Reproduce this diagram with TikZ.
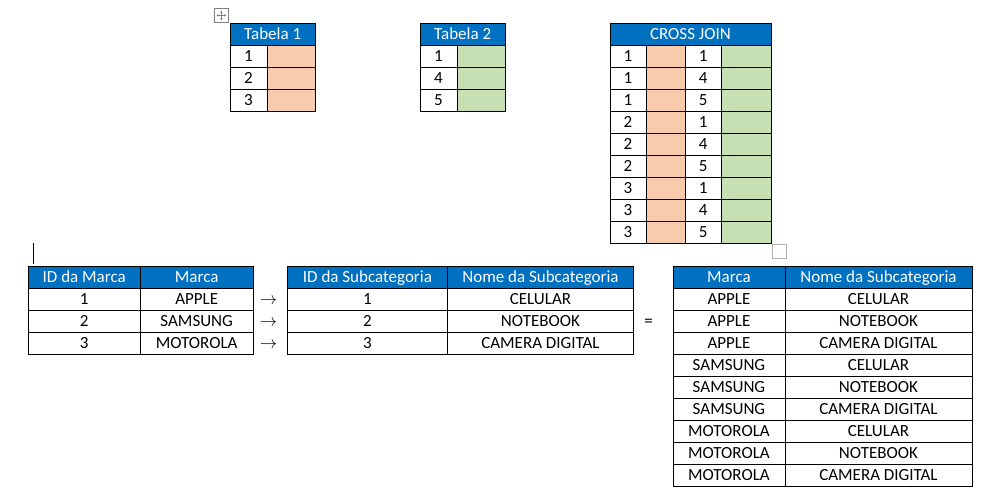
\documentclass[tikz,border=0pt]{standalone}
\usepackage{fontspec}
\setmainfont{Carlito}
\usetikzlibrary{arrows.meta}
\definecolor{hdblue}{HTML}{0070C0}
\definecolor{peach}{HTML}{F8CBAD}
\definecolor{lgreen}{HTML}{C6E0B4}

\begin{document}
\begin{tikzpicture}[x=1pt,y=-1pt,font=\fontsize{17}{20}\selectfont]
    \tikzset{
      cellnode/.style={rectangle,draw=black,line width=0.9pt,anchor=north west,minimum height=22pt,inner sep=0pt,text height=14pt,text depth=2.6pt,text centered},
      headnode/.style={cellnode,fill=hdblue,text=white},
      peachnode/.style={cellnode,fill=peach},
      greennode/.style={cellnode,fill=lgreen},
      signnode/.style={inner sep=0pt,text height=14pt,text depth=2.6pt},
      handlebox/.style={rectangle,draw=gray,line width=0.8pt,anchor=north west,minimum size=14pt,inner sep=0pt},
      handlearrow/.style={gray,line width=0.6pt,{Stealth[length=2.2pt,width=2.6pt]}-{Stealth[length=2.2pt,width=2.6pt]}}
    }
    \useasboundingbox (0,0) rectangle (995,501);

    % table handles
    \node[handlebox](movehandle) at (214,8){};
    \draw[handlearrow]([xshift=2.5pt]movehandle.west) -- ([xshift=-2.5pt]movehandle.east);
    \draw[handlearrow]([yshift=-2.5pt]movehandle.north) -- ([yshift=2.5pt]movehandle.south);
    \node[handlebox,draw=gray!60](resizehandle) at (771.5,244){};
    \draw[line width=0.8pt](33.5,243) -- (33.5,264);

    % Tabela 1
    \node[headnode,minimum width=85.5pt](tab1head) at (229.5,22.5){Tabela 1};
    \foreach \v [count=\i] in {1,2,3} {
      \node[cellnode,minimum width=37pt](tab1num\i) at (229.5,{44.5+22*(\i-1)}){\v};
      \node[peachnode,minimum width=48.5pt](tab1val\i) at (266.5,{44.5+22*(\i-1)}){};
    }

    % Tabela 2
    \node[headnode,minimum width=85.5pt](tab2head) at (419.5,22.5){Tabela 2};
    \foreach \v [count=\i] in {1,4,5} {
      \node[cellnode,minimum width=37pt](tab2num\i) at (419.5,{44.5+22*(\i-1)}){\v};
      \node[greennode,minimum width=48.5pt](tab2val\i) at (456.5,{44.5+22*(\i-1)}){};
    }

    % CROSS JOIN
    \node[headnode,minimum width=161pt](crosshead) at (609.5,22.5){CROSS JOIN};
    \foreach \a/\b [count=\i] in {1/1,1/4,1/5,2/1,2/4,2/5,3/1,3/4,3/5} {
      \node[cellnode,minimum width=36pt](crossa\i) at (609.5,{44.5+22*(\i-1)}){\a};
      \node[peachnode,minimum width=39pt](crossfa\i) at (645.5,{44.5+22*(\i-1)}){};
      \node[cellnode,minimum width=36.5pt](crossb\i) at (684.5,{44.5+22*(\i-1)}){\b};
      \node[greennode,minimum width=49.5pt](crossfb\i) at (721,{44.5+22*(\i-1)}){};
    }

    % marcas
    \node[headnode,minimum width=112.5pt](marcaidhead) at (27.5,265.5){ID da Marca};
    \node[headnode,minimum width=112.5pt](marcahead) at (140,265.5){Marca};
    \foreach \m [count=\i] in {APPLE,SAMSUNG,MOTOROLA} {
      \node[cellnode,minimum width=112.5pt](marcaid\i) at (27.5,{287.5+22*(\i-1)}){\i};
      \node[cellnode,minimum width=112.5pt](marca\i) at (140,{287.5+22*(\i-1)}){\m};
      \node[signnode](seta\i) at (268.5,{298.5+22*(\i-1)}){$\rightarrow$};
    }

    % subcategorias
    \node[headnode,minimum width=160pt](subidhead) at (287,265.5){ID da Subcategoria};
    \node[headnode,minimum width=186pt](subnomehead) at (447,265.5){Nome da Subcategoria};
    \foreach \s [count=\i] in {CELULAR,NOTEBOOK,CAMERA DIGITAL} {
      \node[cellnode,minimum width=160pt](subid\i) at (287,{287.5+22*(\i-1)}){\i};
      \node[cellnode,minimum width=186pt](subnome\i) at (447,{287.5+22*(\i-1)}){\s};
    }
    \node[signnode](igual) at (648.5,320.5){=};

    % resultado
    \node[headnode,minimum width=112pt](resmarcahead) at (672.5,265.5){Marca};
    \node[headnode,minimum width=187pt](resnomehead) at (784.5,265.5){Nome da Subcategoria};
    \foreach \m/\s [count=\i] in {APPLE/CELULAR,APPLE/NOTEBOOK,APPLE/CAMERA DIGITAL,SAMSUNG/CELULAR,SAMSUNG/NOTEBOOK,SAMSUNG/CAMERA DIGITAL,MOTOROLA/CELULAR,MOTOROLA/NOTEBOOK,MOTOROLA/CAMERA DIGITAL} {
      \node[cellnode,minimum width=112pt](resmarca\i) at (672.5,{287.5+22*(\i-1)}){\m};
      \node[cellnode,minimum width=187pt](resnome\i) at (784.5,{287.5+22*(\i-1)}){\s};
    }

  \end{tikzpicture}
\end{document}
